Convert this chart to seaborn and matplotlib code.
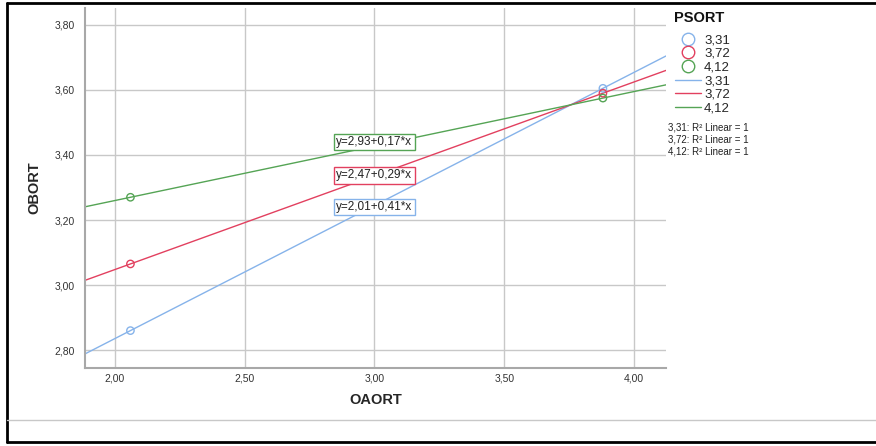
import numpy as np
import pandas as pd
import matplotlib
matplotlib.use("Agg")
import matplotlib.pyplot as plt
import seaborn as sns
from matplotlib.lines import Line2D
from matplotlib.ticker import FuncFormatter

# Datos
psort = ["3,31", "3,72", "4,12"]
oaort = [2.06, 3.88]
oboRT_331 = [2.86, 3.605]
oboRT_372 = [3.065, 3.59]
oboRT_412 = [3.27, 3.575]
ecuaciones = ["y=2,01+0,41*x", "y=2,47+0,29*x", "y=2,93+0,17*x"]
eq_pos_y = [3.24, 3.338, 3.44]
xticks = [2.0, 2.5, 3.0, 3.5, 4.0]
yticks = [2.8, 3.0, 3.2, 3.4, 3.6, 3.8]

colores = ["#86b3ea", "#e2405f", "#55a455"]

df = pd.DataFrame({
    "OAORT": oaort * 3,
    "OBORT": oboRT_331 + oboRT_372 + oboRT_412,
    "PSORT": [p for p in psort for _ in oaort],
})

sns.set_style("white")
plt.rcParams["font.family"] = ["Liberation Sans", "DejaVu Sans"]

fig = plt.figure(figsize=(8.76, 4.46), dpi=100)
ax = fig.add_axes([85 / 876, 78 / 446, 581 / 876, 360 / 446])

ax.set_xlim(1.885, 4.123)
ax.set_ylim(2.745, 3.852)
ax.set_xticks(xticks)
ax.set_yticks(yticks)
ax.grid(True, color="#c8c8c8", linewidth=1)
ax.set_axisbelow(True)

fmt = FuncFormatter(lambda v, p: f"{v:.2f}".replace(".", ","))
ax.xaxis.set_major_formatter(fmt)
ax.yaxis.set_major_formatter(fmt)
ax.tick_params(axis="both", length=0, labelsize=7.5, colors="#333333")
ax.tick_params(axis="x", pad=4)
ax.tick_params(axis="y", pad=7)

for s in ["top", "right"]:
    ax.spines[s].set_visible(False)
for s in ["left", "bottom"]:
    ax.spines[s].set_color("#a8a8a8")
    ax.spines[s].set_linewidth(1.5)

handles_pts = []
handles_lin = []
for i, p in enumerate(psort):
    sub = df[df["PSORT"] == p]
    sns.regplot(data=sub, x="OAORT", y="OBORT", ax=ax, ci=None, truncate=False,
                scatter=False, line_kws={"color": colores[i], "linewidth": 1})
    ax.scatter(sub["OAORT"], sub["OBORT"], s=28, facecolors="none",
               edgecolors=colores[i], linewidths=1, zorder=5)
    handles_pts.append(Line2D([], [], marker="o", linestyle="none", markersize=9,
                              markerfacecolor="none", markeredgecolor=colores[i]))
    handles_lin.append(Line2D([], [], color=colores[i], linewidth=1))
    ax.text(3.0, eq_pos_y[i], ecuaciones[i], ha="center", va="center", fontsize=8.5,
            color="#222222", zorder=6,
            bbox=dict(boxstyle="square,pad=0.2", facecolor="white",
                      edgecolor=colores[i], linewidth=1))

ax.set_xlim(1.885, 4.123)
ax.set_xlabel("OAORT", fontsize=10.5, fontweight="bold", labelpad=7)
ax.set_ylabel("OBORT", fontsize=10.5, fontweight="bold", labelpad=10)

fig.text(674 / 876, 1 - 18 / 446, "PSORT", fontsize=10.5, fontweight="bold",
         va="center", ha="left", color="#111111")
leg = fig.legend(handles_pts + handles_lin, psort + psort,
                 loc="upper left", bbox_to_anchor=(675 / 876, 1 - 34 / 446),
                 frameon=False, fontsize=9.5, handlelength=2.0, labelspacing=0.11,
                 handletextpad=0.2, borderaxespad=0, borderpad=0)

for k, p in enumerate(psort):
    fig.text(668 / 876, 1 - (128 + 12 * k) / 446, f"{p}: R² Linear = 1",
             fontsize=7, va="center", ha="left", color="#222222")

# marco exterior
fig.add_artist(Line2D([7 / 876, 7 / 876], [1 - 3 / 446, 1 - 442 / 446],
                      transform=fig.transFigure, color="black", linewidth=2))
fig.add_artist(Line2D([7 / 876, 1], [1 - 3 / 446, 1 - 3 / 446],
                      transform=fig.transFigure, color="black", linewidth=2))
fig.add_artist(Line2D([7 / 876, 1], [1 - 442 / 446, 1 - 442 / 446],
                      transform=fig.transFigure, color="black", linewidth=2))
fig.add_artist(Line2D([7 / 876, 1], [1 - 420 / 446, 1 - 420 / 446],
                      transform=fig.transFigure, color="#c8c8c8", linewidth=1))

fig.savefig("out.png", dpi=100)
